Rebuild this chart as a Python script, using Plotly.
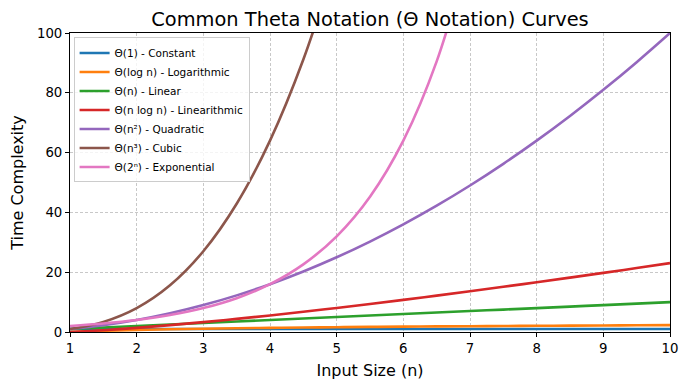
import plotly.graph_objects as go

x_vals = [1, 1.5, 2, 2.5, 3, 3.5, 4, 4.5, 5, 5.5, 6, 6.5, 7, 7.5, 8, 8.5, 9, 9.5, 10]
constant = [1] * 19
logarithmic = [0, 0.405, 0.693, 0.916, 1.099, 1.253, 1.386, 1.504, 1.609, 1.705,
               1.792, 1.872, 1.946, 2.015, 2.079, 2.140, 2.197, 2.251, 2.303]
linear = [1, 1.5, 2, 2.5, 3, 3.5, 4, 4.5, 5, 5.5, 6, 6.5, 7, 7.5, 8, 8.5, 9, 9.5, 10]
linearithmic = [0, 0.608, 1.386, 2.291, 3.296, 4.386, 5.545, 6.768, 8.047, 9.378,
                10.751, 12.167, 13.621, 15.114, 16.636, 18.190, 19.775, 21.386, 23.026]
quadratic = [1, 2.25, 4, 6.25, 9, 12.25, 16, 20.25, 25, 30.25, 36, 42.25, 49,
             56.25, 64, 72.25, 81, 90.25, 100]
cubic = [1, 3.375, 8, 15.625, 27, 42.875, 64, 91.125, 125]
exponential = [2, 2.83, 4, 5.66, 8, 11.31, 16, 22.63, 32, 45.25, 64, 90.51, 128]

names = ["Θ(1) - Constant", "Θ(log n) - Logarithmic", "Θ(n) - Linear",
         "Θ(n log n) - Linearithmic", "Θ(n²) - Quadratic", "Θ(n³) - Cubic",
         "Θ(2ⁿ) - Exponential"]
series = [constant, logarithmic, linear, linearithmic, quadratic, cubic, exponential]
colors = ["#1f77b4", "#ff7f0e", "#2ca02c", "#d62728", "#9467bd", "#8c564b", "#e377c2"]

fig = go.Figure()
for name, ys, c in zip(names, series, colors):
    fig.add_trace(go.Scatter(x=x_vals[:len(ys)], y=ys, mode="lines", name=name,
                             line=dict(color=c, width=2.6, shape="spline", smoothing=1.0)))

font = "DejaVu Sans"
fig.update_layout(
    width=690, height=390,
    margin=dict(l=70, r=20, t=33, b=58, autoexpand=False),
    paper_bgcolor="white", plot_bgcolor="white",
    font=dict(family=font, color="black"),
    title=dict(text="Common Theta Notation (Θ Notation) Curves", x=0.5, xanchor="center",
               xref="paper", y=1 - 19 / 390, yanchor="middle", yref="container",
               font=dict(size=19.4, family=font, color="black")),
    legend=dict(x=0.006, y=0.985, xanchor="left", yanchor="top",
                bgcolor="rgba(255,255,255,0.8)", bordercolor="#cccccc", borderwidth=1,
                font=dict(size=10.5, family=font, color="black"),
                tracegroupgap=0, itemwidth=30),
    showlegend=True,
)
fig.update_xaxes(range=[1, 10], tickvals=list(range(1, 11)),
                 showline=True, linecolor="black", linewidth=1, mirror=True,
                 ticks="outside", ticklen=4, tickcolor="black",
                 showgrid=True, gridcolor="#c8c8c8", griddash="3px,2px", gridwidth=1,
                 zeroline=False, tickfont=dict(size=13.3),
                 title=dict(text="Input Size (n)", font=dict(size=16), standoff=9))
fig.update_yaxes(range=[0, 100], tickvals=[0, 20, 40, 60, 80, 100],
                 showline=True, linecolor="black", linewidth=1, mirror=True,
                 ticks="outside", ticklen=4, tickcolor="black",
                 showgrid=True, gridcolor="#c8c8c8", griddash="3px,2px", gridwidth=1,
                 zeroline=False, tickfont=dict(size=13.3),
                 title=dict(text="Time Complexity", font=dict(size=16), standoff=9))

fig.write_html("out.html", config={"displayModeBar": False},
               post_script="document.body.style.margin='0';")
